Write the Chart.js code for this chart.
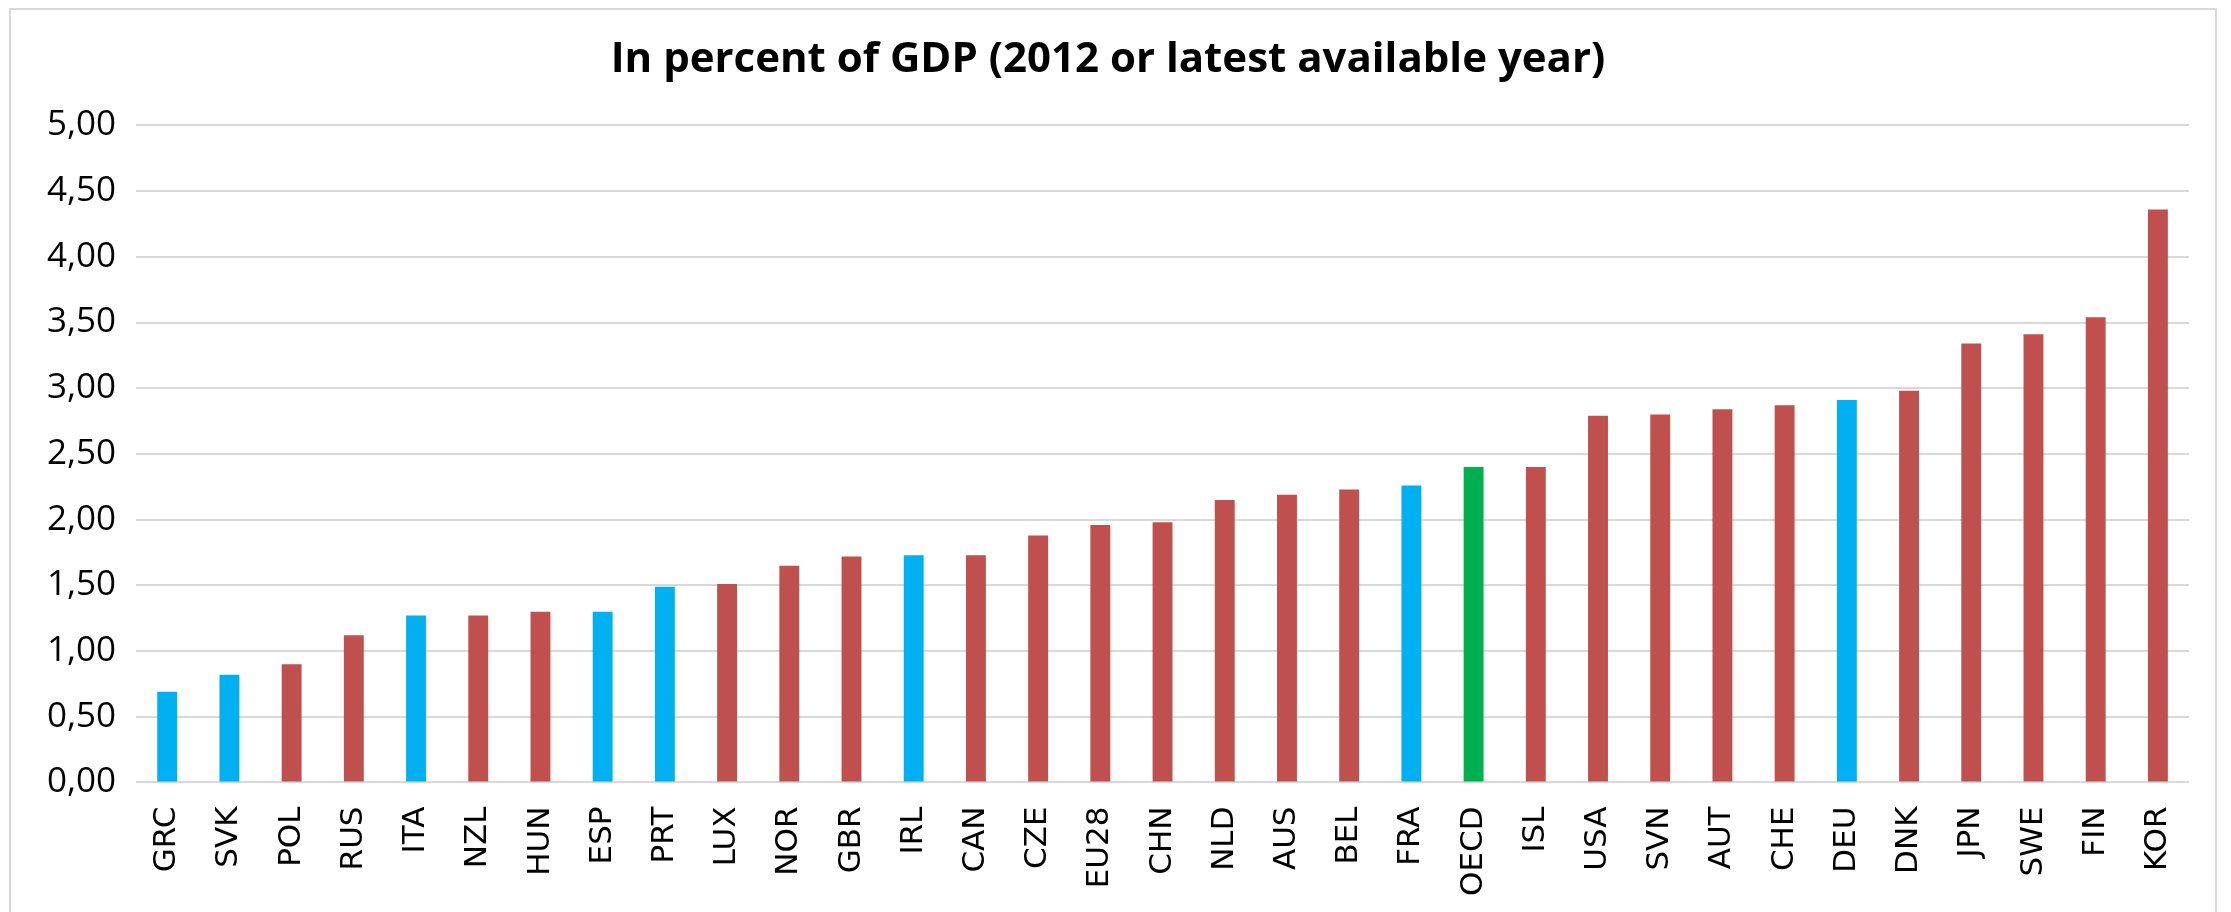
<!DOCTYPE html>
<html>
<head>
    <meta charset="utf-8" />
    <title>chart</title>
    <script src="https://cdn.jsdelivr.net/npm/chart.js"></script>
    <style>
        html, body {
            margin: 0;
            padding: 0;
            background: #ffffff;
        }
        .frame {
            position: absolute;
            left: 9px;
            top: 8px;
            width: 2208px;
            height: 910px;
            border: 2px solid #d9d9d9;
            box-sizing: border-box;
        }
        .box {
            position: absolute;
            left: 0;
            top: 0;
            width: 2231px;
            height: 912px;
        }
    </style>
</head>
<body>
    <div class="frame"></div>
    <div class="box">
        <canvas id="barChart"></canvas>
    </div>

<script>
    // Data
    const countries = ["GRC", "SVK", "POL", "RUS", "ITA", "NZL", "HUN", "ESP", "PRT", "LUX", "NOR", "GBR",
        "IRL", "CAN", "CZE", "EU28", "CHN", "NLD", "AUS", "BEL", "FRA", "OECD", "ISL", "USA", "SVN",
        "AUT", "CHE", "DEU", "DNK", "JPN", "SWE", "FIN", "KOR"]
    const gdpShare = [0.69, 0.82, 0.90, 1.12, 1.27, 1.27, 1.30, 1.30, 1.49, 1.51, 1.65, 1.72,
        1.73, 1.73, 1.88, 1.96, 1.98, 2.15, 2.19, 2.23, 2.26, 2.40, 2.40, 2.79, 2.80,
        2.84, 2.87, 2.91, 2.98, 3.34, 3.41, 3.54, 4.36]
    const yTicks = ["0,00", "0,50", "1,00", "1,50", "2,00", "2,50", "3,00", "3,50", "4,00", "4,50", "5,00"]

    // countries drawn in blue, and the OECD average in green
    const highlighted = ["GRC", "SVK", "ITA", "ESP", "PRT", "IRL", "FRA", "DEU"]
    const average = "OECD"

    var barColors = countries.map(function (c) {
        if (c === average) return "#00B050"
        if (highlighted.indexOf(c) >= 0) return "#00B0F0"
        return "#C0504D"
    })

    var barChart = new Chart(document.getElementById("barChart"), {
        type: 'bar',
        data: {
            labels: countries,
            datasets: [{
                data: gdpShare,
                backgroundColor: barColors,
                borderWidth: 0,
                categoryPercentage: 1.0,
                barPercentage: 0.32
            }]
        },
        options: {
            responsive: true,
            maintainAspectRatio: false,
            animation: false,
            layout: {
                padding: { left: 27, right: 42, top: 0, bottom: 0 }
            },
            scales: {
                x: {
                    grid: { display: false },
                    border: { display: false },
                    ticks: {
                        color: '#000000',
                        minRotation: 90,
                        maxRotation: 90,
                        autoSkip: false,
                        padding: 16,
                        font: { family: 'DejaVu Sans', size: 31 }
                    }
                },
                y: {
                    min: 0,
                    max: 5,
                    border: { display: false },
                    grid: { color: '#d9d9d9', lineWidth: 2, drawTicks: false },
                    ticks: {
                        stepSize: 0.5,
                        color: '#000000',
                        padding: 20,
                        font: { family: 'Open Sans', size: 35 },
                        callback: function (value, index) {
                            return yTicks[index]
                        }
                    }
                }
            },
            plugins: {
                legend: { display: false },
                tooltip: { enabled: false },
                title: {
                    display: true,
                    text: 'In percent of GDP (2012 or latest available year)',
                    color: '#000000',
                    font: { family: 'Open Sans', size: 42, weight: 'bold' },
                    padding: { top: 35, bottom: 40 }
                }
            }
        }
    });
</script>
</body>
</html>
